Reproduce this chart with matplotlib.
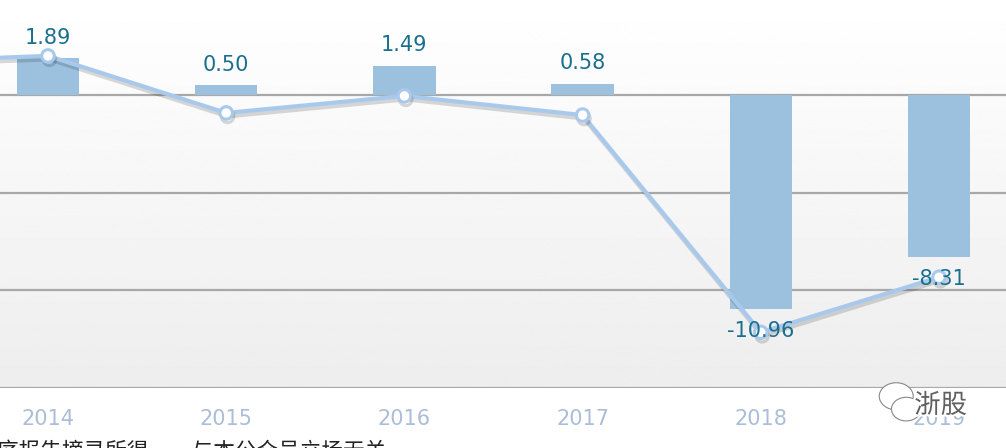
# Bar + line chart (cropped view), yearly values 2014-2019

import matplotlib.pyplot as plt
import matplotlib.patheffects as pe
import numpy as np
from matplotlib.patches import Ellipse

plt.rcParams['font.family'] = ['DejaVu Sans', 'Noto Sans CJK SC']

# data
years = [2014, 2015, 2016, 2017, 2018, 2019]
bar_values = [1.89, 0.50, 1.49, 0.58, -10.96, -8.31]
bar_labels = ["1.89", "0.50", "1.49", "0.58", "-10.96", "-8.31"]
line_years = [2013, 2014, 2015, 2016, 2017, 2018, 2019]
line_values = [1.65, 2.0, -0.92, -0.05, -1.03, -12.15, -9.33]
grid_levels = [0, -5, -10, -15]
footnote = "序报告摘录所得，\u3000与本公众号立场无关"

bar_col = "#9bc1df"
line_col = "#a9c9ec"
label_col = "#1b6f8e"
tick_col = "#abbdd8"
grid_col = "#a8a8a8"

fig = plt.figure(figsize=(10.06, 4.48), dpi=100)
ax = fig.add_axes([0, 60 / 448, 1, 388 / 448])

x0 = 2014 - 48 / 178.2
x1 = 2014 + (1006 - 48) / 178.2
ax.set_xlim(x0, x1)
ax.set_ylim(-15, 4.86)

# soft vertical gradient in the plot area
grad = np.linspace(1.0, 0.93, 256).reshape(-1, 1)
ax.imshow(grad, cmap="gray", vmin=0, vmax=1, aspect="auto",
          extent=[x0, x1, -15, 4.86], zorder=0)

for g in grid_levels:
    ax.axhline(g, color=grid_col, lw=1.6, zorder=1)

ax.bar(years, bar_values, width=0.35, color=bar_col, zorder=2)

ax.plot(line_years, line_values, color=line_col, lw=3.0, zorder=3,
        marker="o", ms=9, mfc="white", mec=line_col, mew=2.2,
        path_effects=[pe.SimpleLineShadow(offset=(1, -2.5), alpha=0.15),
                      pe.Normal()])

for yr, v, lab in zip(years, bar_values, bar_labels):
    if v >= 0:
        ax.annotate(lab, (yr, v), xytext=(0, 7.5), textcoords="offset points",
                    ha="center", va="bottom", fontsize=15, color=label_col,
                    zorder=5)
    else:
        ax.annotate(lab, (yr, v), xytext=(0, -8.5), textcoords="offset points",
                    ha="center", va="top", fontsize=15, color=label_col,
                    zorder=5)

ax.set_xticks(years)
ax.set_xticklabels([str(y) for y in years], fontsize=15, color=tick_col)
ax.tick_params(axis="x", length=0, pad=15)
ax.set_yticks([])
for s in ax.spines.values():
    s.set_visible(False)

# watermark
fig.text(0.935, 0.095, "浙股", fontsize=19, color="#606060",
         family=["Noto Sans CJK SC"], ha="center", va="center", zorder=10,
         path_effects=[pe.withStroke(linewidth=3, foreground="white")])
wax = fig.add_axes([0.872, 0.045, 0.045, 0.11])
wax.set_xlim(0, 1)
wax.set_ylim(0, 1)
wax.axis("off")
wax.add_patch(Ellipse((0.42, 0.64), 0.75, 0.55, fill=True, fc="white",
                      ec="#888888", lw=0.8))
wax.add_patch(Ellipse((0.64, 0.38), 0.65, 0.48, fill=True, fc="white",
                      ec="#888888", lw=0.8))

# footnote, cut off at the bottom edge
fig.text(-0.003, -0.009, footnote, fontsize=15.6, color="#222222",
         family=["Noto Sans CJK SC"], ha="left", va="center")

fig.savefig("out.png", dpi=100)
